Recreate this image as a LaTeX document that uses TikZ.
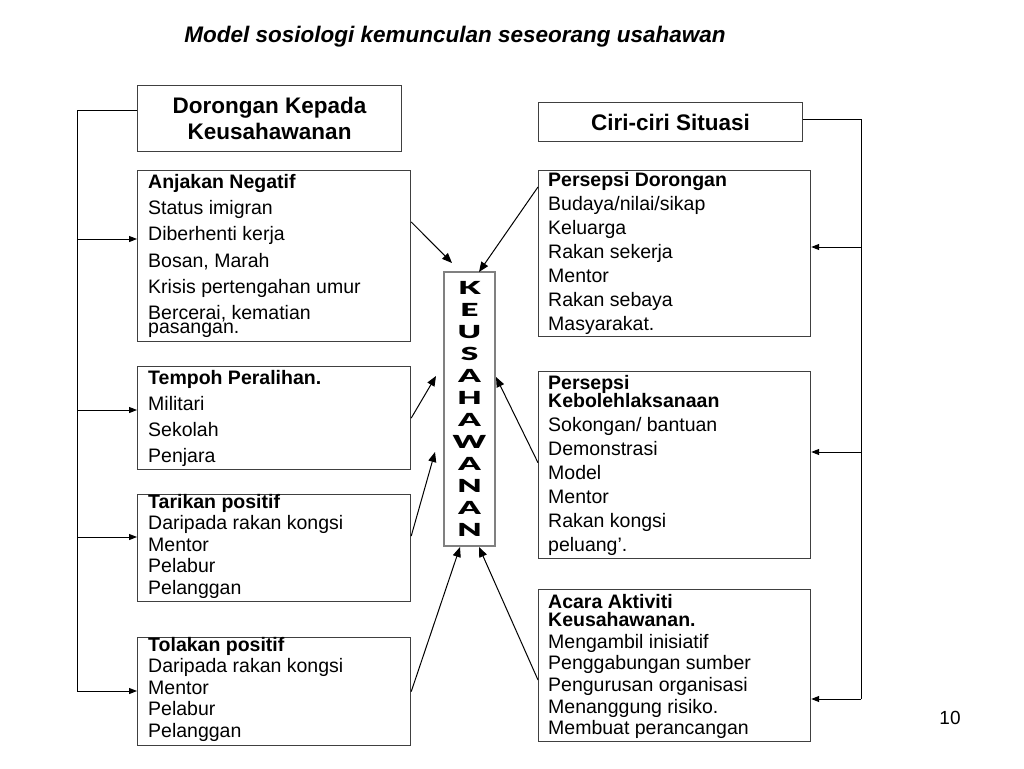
\documentclass[tikz,border=0pt]{standalone}
\usepackage{fontspec}
\usepackage{graphicx}
\setmainfont{Liberation Sans}
\newfontfamily\heavyfont{Lato Black}
\newcommand\widen[1]{\scalebox{1.75}[1]{#1}}
\usetikzlibrary{arrows.meta}
\tikzset{
  title/.style={
    font=\bfseries\itshape\fontsize{22.5}{27}\selectfont
  },
  head/.style={
    draw=black!75,
    line width=1.2pt,
    inner sep=0pt,
    anchor=north west,
    align=center,
    font=\bfseries\fontsize{22.5}{26}\selectfont
  },
  itembox/.style={
    draw=black!75,
    line width=1.2pt,
    inner sep=0pt,
    anchor=north west
  },
  itemtext/.style={
    inner sep=0pt,
    anchor=north west,
    align=left
  },
  keusbox/.style={
    draw=gray,
    line width=1.2pt,
    inner sep=0pt,
    align=center,
    minimum width=51pt,
    minimum height=274pt,
    font=\heavyfont\fontsize{18}{22}\selectfont
  },
  pagenum/.style={font=\fontsize{19}{22}\selectfont},
  flow/.style={-{Triangle[length=10pt,width=8pt]}, line width=1pt},
  bus/.style={line width=1pt},
  busflow/.style={-{Triangle[length=8pt,width=6pt]}, line width=1pt}
}

\begin{document}
\begin{tikzpicture}[x=1pt,y=-1pt]
  \useasboundingbox[fill=white] (0,0) rectangle (1024,768);

  \node[title] (title) at (455,37) {Model sosiologi kemunculan seseorang usahawan};

  % left column
  \node[head, minimum width=264pt, minimum height=66pt] (dorongan) at (137,85) {Dorongan Kepada\\Keusahawanan};

  \node[itembox, minimum width=273pt, minimum height=171pt] (anjakan) at (137,170) {};
  \node[itemtext, font=\fontsize{19.5}{26.3}\selectfont] (anjakan-t) at (148,174)
    {\textbf{Anjakan Negatif}\\Status imigran\\Diberhenti kerja\\Bosan, Marah\\Krisis pertengahan umur\\Bercerai, kematian\\[-12.3pt]pasangan.};

  \node[itembox, minimum width=273pt, minimum height=103pt] (tempoh) at (137,366) {};
  \node[itemtext, font=\fontsize{19.5}{26}\selectfont] (tempoh-t) at (148,370)
    {\textbf{Tempoh Peralihan.}\\Militari\\Sekolah\\Penjara};

  \node[itembox, minimum width=273pt, minimum height=107pt] (tarikan) at (137,494) {};
  \node[itemtext, font=\fontsize{19.5}{21.5}\selectfont] (tarikan-t) at (148,494)
    {\textbf{Tarikan positif}\\Daripada rakan kongsi\\Mentor\\Pelabur\\Pelanggan};

  \node[itembox, minimum width=273pt, minimum height=108pt] (tolakan) at (137,637) {};
  \node[itemtext, font=\fontsize{19.5}{21.5}\selectfont] (tolakan-t) at (148,637)
    {\textbf{Tolakan positif}\\Daripada rakan kongsi\\Mentor\\Pelabur\\Pelanggan};

  % right column
  \node[head, minimum width=264pt, minimum height=39pt] (ciri) at (538,102) {Ciri-ciri Situasi};

  \node[itembox, minimum width=272pt, minimum height=166pt] (dorsep) at (538,170) {};
  \node[itemtext, font=\fontsize{19.5}{24}\selectfont] (dorsep-t) at (548,172)
    {\textbf{Persepsi Dorongan}\\Budaya/nilai/sikap\\Keluarga\\Rakan sekerja\\Mentor\\Rakan sebaya\\Masyarakat.};

  \node[itembox, minimum width=272pt, minimum height=187pt] (boleh) at (538,371) {};
  \node[itemtext, font=\fontsize{19.5}{24}\selectfont] (boleh-t) at (548,375)
    {\textbf{Persepsi}\\[-6pt]\textbf{Kebolehlaksanaan}\\Sokongan/ bantuan\\Demonstrasi\\Model\\Mentor\\Rakan kongsi\\peluang’.};

  \node[itembox, minimum width=272pt, minimum height=152pt] (acara) at (538,589) {};
  \node[itemtext, font=\fontsize{19.5}{21.7}\selectfont] (acara-t) at (548,594)
    {\textbf{Acara Aktiviti}\\[-3.7pt]\textbf{Keusahawanan.}\\Mengambil inisiatif\\Penggabungan sumber\\Pengurusan organisasi\\Menanggung risiko.\\Membuat perancangan};

  % centre
  \node[keusbox] (keus) at (469.5,409)
    {\widen{K}\\\widen{E}\\\widen{U}\\\widen{S}\\\widen{A}\\\widen{H}\\\widen{A}\\\widen{W}\\\widen{A}\\\widen{N}\\\widen{A}\\\widen{N}};

  \node[pagenum] (page) at (950,718) {10};

  % bus lines
  \coordinate (lb0) at (77,110);
  \coordinate (lb1) at (77,239);
  \coordinate (lb2) at (77,410);
  \coordinate (lb3) at (77,537);
  \coordinate (lb4) at (77,691);
  \coordinate (rb0) at (861,119);
  \coordinate (rb1) at (861,247);
  \coordinate (rb2) at (861,452);
  \coordinate (rb3) at (861,699);

  \draw[bus] (dorongan.west |- lb0) -- (lb0) -- (lb4);
  \foreach \b/\n in {lb1/anjakan, lb2/tempoh, lb3/tarikan, lb4/tolakan}
    \draw[busflow] (\b) -- (\n.west |- \b);

  \draw[bus] (ciri.east |- rb0) -- (rb0) -- (rb3);
  \foreach \b/\n in {rb1/dorsep, rb2/boleh, rb3/acara}
    \draw[busflow] (\b) -- (\n.east |- \b);

  % arrows into the centre
  \coordinate (t1) at (452,263);
  \coordinate (t2) at (436,376);
  \coordinate (t3) at (435,452);
  \coordinate (t4) at (460,547);
  \coordinate (t5) at (479,272);
  \coordinate (t6) at (496,377);
  \coordinate (t7) at (479,547);

  \draw[flow] (anjakan.14) -- (t1);
  \draw[flow] (tempoh.east) -- (t2);
  \draw[flow] (tarikan.5) -- (t3);
  \draw[flow] (tolakan.east) -- (t4);
  \draw[flow] (dorsep.154) -- (t5);
  \draw[flow] (boleh.179) -- (t6);
  \draw[flow] (acara.186) -- (t7);
\end{tikzpicture}
\end{document}
